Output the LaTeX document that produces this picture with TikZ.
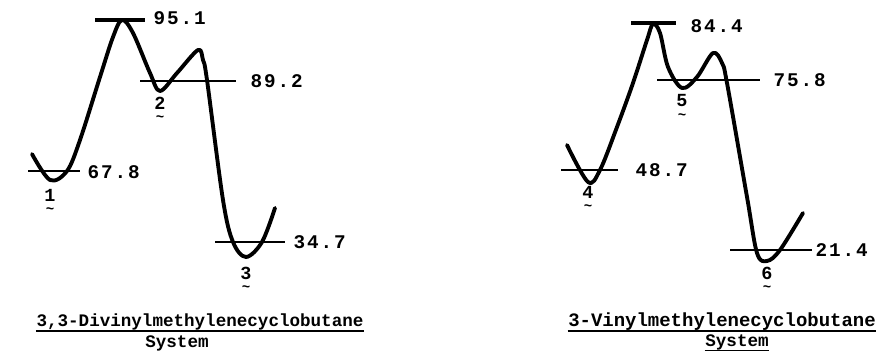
\documentclass[tikz,border=0pt]{standalone}
\usepackage{fontspec}
\setmonofont{Liberation Mono}
\newfontfamily\numfont[LetterSpace=10]{Liberation Mono}
\usetikzlibrary{positioning}
\tikzset{every picture/.style={line width=0.75pt}}

\begin{document}
\begin{tikzpicture}[scale=1.0,
    curve/.style={line width=2.2pt, line cap=round, line join=round},
    level/.style={line width=1.5pt},
    energy/.style={anchor=west, inner sep=0pt, font=\numfont\bfseries\fontsize{11}{11}\selectfont},
    cpd/.style={inner sep=0pt, font=\ttfamily\bfseries\fontsize{10.5}{10.5}\selectfont},
    tld/.style={inner sep=0pt, font=\ttfamily\bfseries\fontsize{8}{8}\selectfont},
    ttl/.style={inner sep=0pt, font=\ttfamily\bfseries\fontsize{10}{10}\selectfont}]
    \useasboundingbox (0,0) rectangle (17.58,7.06);

    % 3,3-divinyl: levels
    \draw[level] (0.56,3.64) -- (1.60,3.64);
    \draw[level, line width=2pt] (1.90,6.66) -- (2.90,6.66);
    \draw[level] (2.80,5.44) -- (4.72,5.44);
    \draw[level] (4.30,2.22) -- (5.70,2.22);
    \node[energy] (e1) at (1.74,3.62) {67.8};
    \node[energy] (e2) at (3.06,6.70) {95.1};
    \node[energy] (e3) at (5.00,5.44) {89.2};
    \node[energy] (e4) at (5.86,2.22) {34.7};

    % 3,3-divinyl: curve
    \draw[curve] plot[smooth, tension=0.55] coordinates {
        (0.64,3.98) (1.00,3.46) (1.34,3.64) (1.60,4.26) (2.00,5.52)
        (2.26,6.32) (2.44,6.66) (2.66,6.40) (3.00,5.60) (3.20,5.24)
        (3.54,5.60) (3.96,6.06) (4.06,5.86) (4.14,5.46) (4.46,3.06)
        (4.66,2.22) (4.92,1.92) (5.24,2.22) (5.50,2.90)};

    % 3,3-divinyl: compounds
    \node[cpd] (c1) at (1.00,3.16) {1};
    \node[tld, below=3pt of c1] (c1t) {\textasciitilde};
    \node[cpd] (c2) at (3.20,5.00) {2};
    \node[tld, below=3pt of c2] (c2t) {\textasciitilde};
    \node[cpd] (c3) at (4.92,1.60) {3};
    \node[tld, below=3pt of c3] (c3t) {\textasciitilde};

    \node[ttl] (ttlA) at (4.00,0.62) {3,3-Divinylmethylenecyclobutane};
    \draw[line width=1pt] ([yshift=-2.5pt]ttlA.base west) -- ([yshift=-2.5pt]ttlA.base east);
    \node[ttl] (sysA) at (3.54,0.20) {System};

    % 3-vinyl: levels
    \draw[level] (11.22,3.66) -- (12.36,3.66);
    \draw[level, line width=2pt] (12.62,6.60) -- (13.52,6.60);
    \draw[level] (13.14,5.46) -- (15.20,5.46);
    \draw[level] (14.60,2.06) -- (16.24,2.06);
    \node[energy] (e5) at (12.70,3.66) {48.7};
    \node[energy] (e6) at (13.80,6.54) {84.4};
    \node[energy] (e7) at (15.46,5.46) {75.8};
    \node[energy] (e8) at (16.30,2.06) {21.4};

    % 3-vinyl: curve
    \draw[curve] plot[smooth, tension=0.55] coordinates {
        (11.34,4.16) (11.76,3.42) (12.00,3.66) (12.34,4.52) (12.66,5.40)
        (12.94,6.26) (13.06,6.58) (13.20,6.40) (13.36,5.72) (13.64,5.30)
        (13.94,5.52) (14.26,6.00) (14.44,5.80) (14.54,5.40) (14.94,3.12)
        (15.14,2.00) (15.34,1.84) (15.60,2.06) (16.06,2.80)};

    % 3-vinyl: compounds
    \node[cpd] (c4) at (11.76,3.22) {4};
    \node[tld, below=3pt of c4] (c4t) {\textasciitilde};
    \node[cpd] (c5) at (13.64,5.04) {5};
    \node[tld, below=3pt of c5] (c5t) {\textasciitilde};
    \node[cpd] (c6) at (15.34,1.60) {6};
    \node[tld, below=3pt of c6] (c6t) {\textasciitilde};

    \node[ttl, font=\ttfamily\bfseries\fontsize{10.8}{10.8}\selectfont] (ttlB) at (14.44,0.62) {3-Vinylmethylenecyclobutane};
    \draw[line width=1pt] ([yshift=-2.5pt]ttlB.base west) -- ([yshift=-2.5pt]ttlB.base east);
    \node[ttl] (sysB) at (14.74,0.22) {System};
    \draw[line width=1pt] ([yshift=-2.5pt]sysB.base west) -- ([yshift=-2.5pt]sysB.base east);
\end{tikzpicture}
\end{document}
